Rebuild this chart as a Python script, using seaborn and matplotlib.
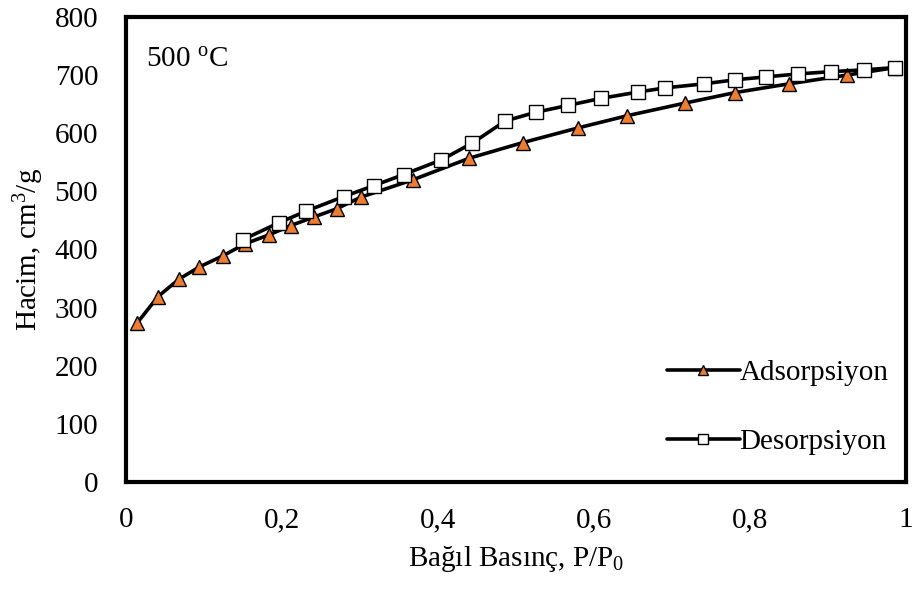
import matplotlib
matplotlib.use("Agg")
import matplotlib.pyplot as plt
import seaborn as sns

# adsorption branch (P/P0, volume cm3/g)
ads_p = [0.014, 0.041, 0.068, 0.094, 0.124, 0.153, 0.183, 0.211, 0.241, 0.270,
         0.301, 0.368, 0.440, 0.509, 0.579, 0.642, 0.717, 0.781, 0.850, 0.924, 0.986]
ads_v = [273, 319, 349, 370, 389, 410, 425, 441, 456, 470,
         490, 520, 557, 584, 609, 630, 652, 670, 685, 700, 713]

# desorption branch
des_p = [0.986, 0.946, 0.904, 0.861, 0.821, 0.781, 0.741, 0.691, 0.657, 0.609,
         0.567, 0.525, 0.486, 0.444, 0.404, 0.356, 0.318, 0.279, 0.231, 0.196, 0.150]
des_v = [713, 709, 706, 702, 697, 692, 685, 678, 671, 660,
         648, 636, 621, 583, 554, 529, 510, 491, 466, 446, 417]

x_ticks = [0, 0.2, 0.4, 0.6, 0.8, 1.0]
x_tick_labels = ["0", "0,2", "0,4", "0,6", "0,8", "1"]
y_ticks = [0, 100, 200, 300, 400, 500, 600, 700, 800]

sns.set_style("white")
plt.rcParams["font.family"] = ["Liberation Serif", "DejaVu Serif"]
plt.rcParams["mathtext.fontset"] = "custom"
plt.rcParams["mathtext.rm"] = "Liberation Serif"
plt.rcParams["mathtext.it"] = "Liberation Serif:italic"
plt.rcParams["text.color"] = "black"
plt.rcParams["axes.labelcolor"] = "black"
plt.rcParams["xtick.color"] = "black"
plt.rcParams["ytick.color"] = "black"

fig = plt.figure(figsize=(9.15, 5.92), dpi=100)
ax = fig.add_axes([0.1377, 0.1858, 0.8525, 0.7855])

sns.lineplot(x=ads_p, y=ads_v, sort=False, ax=ax, color="black", linewidth=2.6,
             marker="^", markersize=10.5, markerfacecolor="#ED7D31",
             markeredgecolor="black", markeredgewidth=1.0, label="Adsorpsiyon")
sns.lineplot(x=des_p, y=des_v, sort=False, ax=ax, color="black", linewidth=2.6,
             marker="s", markersize=9.5, markerfacecolor="white",
             markeredgecolor="black", markeredgewidth=1.0, label="Desorpsiyon")

ax.set_xlim(0, 1)
ax.set_ylim(0, 800)
ax.set_xticks(x_ticks)
ax.set_xticklabels(x_tick_labels)
ax.set_yticks(y_ticks)
ax.tick_params(axis="both", length=0, labelsize=21, colors="black")
ax.tick_params(axis="y", pad=20)
ax.tick_params(axis="x", pad=18)

for sp in ax.spines.values():
    sp.set_linewidth(3)
    sp.set_color("black")

ax.set_xlabel("Bağıl Basınç, P/P$_\\mathregular{0}$", fontsize=21, labelpad=8,
              color="black")
ax.set_ylabel("Hacim, cm$^\\mathregular{3}$/g", fontsize=21, labelpad=6,
              color="black")

ax.text(0.026, 0.892, "500 $^\\mathregular{o}$C", transform=ax.transAxes,
        fontsize=21, ha="left", va="baseline", color="black")

leg = ax.legend(loc="lower right", bbox_to_anchor=(1.0, 0.02), frameon=False,
                fontsize=21, handlelength=2.5, handletextpad=0.0,
                labelspacing=1.45, borderaxespad=0.2, markerscale=0.75)
for t in leg.get_texts():
    t.set_color("black")

fig.savefig("out.png", dpi=100)
